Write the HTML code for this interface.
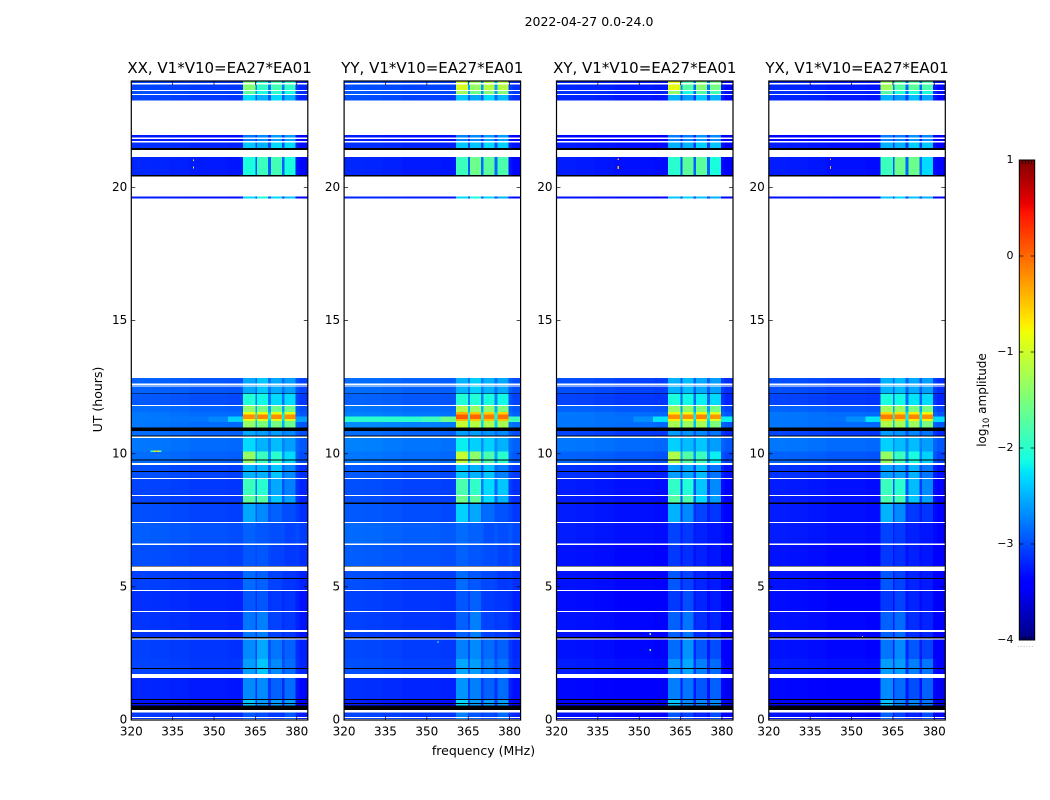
<!DOCTYPE html>
<html>
<head>
<meta charset="utf-8">
<title>2022-04-27 0.0-24.0</title>
<style>
html,body{margin:0;padding:0;background:#fff;}
svg{display:block;}
text{font-family:"DejaVu Sans","Liberation Sans",sans-serif;fill:#000;}
</style>
</head>
<body>
<svg id="figure" xmlns="http://www.w3.org/2000/svg" width="1050" height="800" viewBox="0 0 1050 800">
  <text x="589" y="26" font-size="12.5" text-anchor="middle">2022-04-27 0.0-24.0</text>
  <text x="483.5" y="755" font-size="12.5" text-anchor="middle">frequency (MHz)</text>
  <text transform="translate(102,399.5) rotate(-90)" font-size="12.5" text-anchor="middle">UT (hours)</text>
  <text transform="translate(986,400) rotate(-90)" font-size="12" text-anchor="middle">log<tspan font-size="8.5" dy="3">10</tspan><tspan dy="-3"> amplitude</tspan></text>
  <text x="1026" y="647" font-size="6" fill="#777" text-anchor="middle" letter-spacing="1" style="fill:#777">......</text>
  <defs>
    <linearGradient id="jet-gradient" x1="0" y1="1" x2="0" y2="0"></linearGradient>
  </defs>
</svg>
<script>
/* ---------- values (log10 amplitude, hours, MHz) ---------- */
var panelTitles = ["XX, V1*V10=EA27*EA01","YY, V1*V10=EA27*EA01","XY, V1*V10=EA27*EA01","YX, V1*V10=EA27*EA01"];
var freqTicks = [320,335,350,365,380];
var hourTicks = [0,5,10,15,20];
var colorTicks = [1,0,-1,-2,-3,-4];

/* frequency columns: background sections, then the four bright bands and their gaps */
var freqEdges = [320,327,334,341,348,355,360.5,365,365.6,369.6,370.6,374.6,375.6,379.6,381,384];
/* which level each column reads: 0 = background, 1-4 = band, negative = gap next to that band */
var colSource = [0,0,0,0,0,0,1,-1,2,-2,3,-3,4,0,0];
var bgProfile = [0.06,0.05,0.03,0,0,-0.02,0,0,0,0,0,0,0,-0.03,-0.1];

/* time segments; each row of a level table is [background, band1, band2, band3, band4] */
var segmentStarts = [0,0.375,0.79,1.58,2.3,3.05,4.06,4.86,5.6,6.6,7.42,8.13,8.45,9.07,9.58,10.08,10.62,10.98,11.23,11.31,11.47,11.57,11.81,12.25,12.84,19.58,19.66,21.14,21.69,21.97,23.26,23.47,23.66];
var segmentEnd = 24;

var levelsXX = [
[-3.15,-2.95,-3.0,-3.1,-2.95],[-3.35,-2.4,-2.6,-2.6,-2.6],[-3.25,-2.7,-2.7,-2.9,-2.85],[-3.1,-2.6,-2.4,-2.7,-2.85],
[-3.12,-2.7,-2.55,-2.8,-2.9],[-3.18,-2.8,-2.75,-3.05,-3.1],[-3.2,-2.95,-2.95,-3.1,-3.12],[-3.12,-2.85,-2.9,-3.05,-3.12],
[-3.05,-2.95,-2.95,-3.05,-3.1],[-2.98,-2.9,-2.95,-3.0,-3.05],[-3.05,-2.55,-2.7,-2.9,-3.0],[-3.1,-1.7,-1.75,-2.4,-2.6],
[-3.1,-1.9,-2.0,-2.55,-2.75],[-3.05,-2.5,-2.5,-2.4,-2.7],[-2.9,-1.35,-1.9,-2.0,-2.3],[-2.85,-2.3,-2.5,-2.45,-2.6],
[-2.9,-2.55,-2.6,-2.6,-2.7],[-2.85,-1.35,-1.5,-1.55,-1.6],[-2.85,-0.85,-0.9,-0.9,-0.9],[-2.85,-0.2,-0.15,-0.2,-0.2],
[-2.85,-0.8,-0.85,-0.85,-0.85],[-2.9,-1.4,-1.55,-1.6,-1.6],[-3.0,-2.05,-2.15,-2.3,-2.3],[-2.95,-2.55,-2.4,-2.55,-2.6],
null,[-3.3,-2.3,-2.1,-2.3,-2.4],[-3.25,-2.1,-1.9,-1.85,-2.1],[-3.2,-2.4,-2.5,-2.3,-2.3],[-3.3,-2.8,-2.7,-2.6,-2.6],
null,[-3.1,-2.3,-2.5,-2.3,-2.5],[-3.05,-1.7,-2.1,-2.0,-2.1],[-3.1,-1.45,-1.95,-1.85,-1.95]];

var levelsYY = [
[-3.1,-2.75,-2.95,-3.0,-2.85],[-3.3,-2.3,-2.6,-2.6,-2.6],[-3.2,-2.65,-2.75,-2.9,-2.85],[-3.05,-2.55,-2.6,-2.75,-2.8],
[-3.08,-2.75,-2.7,-2.85,-2.9],[-3.12,-2.9,-2.75,-3.05,-3.08],[-3.12,-2.95,-2.9,-3.08,-3.12],[-3.05,-2.85,-2.95,-3.02,-3.1],
[-2.98,-2.9,-2.95,-3.0,-3.05],[-2.92,-2.85,-2.9,-3.0,-3.0],[-3.0,-2.35,-2.55,-2.85,-2.98],[-3.05,-1.6,-1.7,-2.3,-2.5],
[-3.05,-1.8,-1.95,-2.3,-2.4],[-3.0,-2.4,-2.5,-2.4,-2.75],[-2.85,-1.05,-1.4,-1.8,-2.0],[-2.8,-2.2,-2.35,-2.35,-2.5],
[-2.9,-2.6,-2.6,-2.65,-2.7],[-2.75,-1.05,-1.15,-1.2,-1.25],[-2.8,-0.4,-0.5,-0.5,-0.5],[-2.8,0.08,0.02,-0.1,-0.05],
[-2.8,-0.4,-0.5,-0.55,-0.55],[-2.85,-1.2,-1.35,-1.4,-1.5],[-2.95,-2.05,-2.05,-2.1,-2.15],[-2.9,-2.5,-2.35,-2.5,-2.55],
null,[-3.25,-2.3,-2.1,-2.3,-2.5],[-3.25,-1.9,-1.6,-1.7,-1.8],[-3.2,-2.4,-2.4,-2.3,-2.35],[-3.3,-2.75,-2.7,-2.6,-2.6],
null,[-3.05,-2.4,-2.55,-2.3,-2.45],[-3.0,-1.3,-1.6,-1.45,-1.45],[-3.05,-0.95,-1.35,-1.15,-1.15]];

var levelsXY = [
[-3.35,-2.95,-3.05,-3.2,-3.0],[-3.45,-2.4,-2.7,-2.7,-2.7],[-3.4,-2.75,-2.8,-2.95,-2.9],[-3.3,-2.65,-2.55,-2.75,-2.85],
[-3.35,-2.85,-2.65,-2.95,-3.0],[-3.35,-2.9,-2.8,-3.15,-3.2],[-3.38,-3.1,-3.0,-3.2,-3.25],[-3.35,-2.95,-3.05,-3.2,-3.25],
[-3.35,-3.1,-3.15,-3.22,-3.27],[-3.3,-3.05,-3.1,-3.22,-3.27],[-3.3,-2.5,-2.7,-3.05,-3.12],[-3.3,-1.75,-1.8,-2.3,-2.6],
[-3.3,-1.95,-2.05,-2.4,-2.7],[-3.2,-2.6,-2.55,-2.45,-2.8],[-2.95,-1.2,-1.75,-1.9,-2.2],[-2.85,-2.35,-2.45,-2.4,-2.6],
[-3.1,-2.6,-2.65,-2.7,-2.8],[-2.85,-1.25,-1.3,-1.25,-1.5],[-2.85,-0.7,-0.8,-0.7,-0.9],[-2.85,-0.2,-0.2,-0.15,-0.25],
[-2.85,-0.75,-0.8,-0.75,-0.9],[-2.95,-1.35,-1.4,-1.5,-1.55],[-3.1,-2.1,-2.15,-2.2,-2.3],[-3.05,-2.5,-2.45,-2.55,-2.6],
null,[-3.35,-2.4,-2.3,-2.4,-2.5],[-3.3,-2.0,-1.7,-1.7,-2.1],[-3.3,-2.5,-2.5,-2.35,-2.4],[-3.4,-2.75,-2.75,-2.65,-2.7],
null,[-3.25,-2.5,-2.6,-2.4,-2.5],[-3.2,-1.4,-2.1,-1.75,-1.85],[-3.25,-0.85,-1.75,-1.45,-1.55]];

var levelsYX = [
[-3.35,-2.9,-3.05,-3.2,-3.0],[-3.45,-2.4,-2.7,-2.7,-2.8],[-3.4,-2.7,-2.85,-3.0,-2.9],[-3.3,-2.6,-2.6,-2.75,-2.8],
[-3.35,-2.8,-2.7,-2.95,-3.05],[-3.35,-2.9,-2.85,-3.15,-3.2],[-3.38,-3.1,-3.05,-3.2,-3.25],[-3.35,-2.95,-3.05,-3.2,-3.25],
[-3.35,-3.1,-3.15,-3.22,-3.27],[-3.3,-3.05,-3.1,-3.22,-3.27],[-3.3,-2.5,-2.7,-3.1,-3.12],[-3.3,-1.8,-1.85,-2.4,-2.6],
[-3.3,-1.9,-2.0,-2.45,-2.7],[-3.2,-2.6,-2.6,-2.5,-2.8],[-2.95,-1.35,-1.9,-2.1,-2.35],[-2.85,-2.35,-2.45,-2.45,-2.6],
[-3.1,-2.6,-2.65,-2.7,-2.8],[-2.85,-1.2,-1.25,-1.3,-1.5],[-2.85,-0.55,-0.6,-0.7,-0.75],[-2.85,-0.1,-0.12,-0.15,-0.2],
[-2.85,-0.6,-0.65,-0.7,-0.8],[-2.95,-1.3,-1.35,-1.5,-1.55],[-3.1,-2.1,-2.15,-2.25,-2.3],[-3.05,-2.5,-2.45,-2.55,-2.6],
null,[-3.35,-2.4,-2.3,-2.4,-2.5],[-3.3,-1.9,-1.6,-1.6,-2.3],[-3.3,-2.5,-2.5,-2.35,-2.4],[-3.4,-2.75,-2.75,-2.65,-2.7],
null,[-3.25,-2.5,-2.6,-2.45,-2.55],[-3.2,-1.75,-2.05,-2.05,-2.1],[-3.25,-1.3,-1.75,-1.7,-1.8]];

var panelLevels = [levelsXX,levelsYY,levelsXY,levelsYX];

/* broadband interference streak near 11.3 h, away from the bright bands */
var streakHours = [11.2,11.39];
var streakFreqs = [320,334,348,355,360.5];
var streakXX = [-2.78,-2.8,-2.72,-2.35];
var streakYY = [-2.0,-2.0,-1.9,-1.6];
var streakXY = [-2.8,-2.82,-2.68,-2.25];
var streakYX = [-2.8,-2.82,-2.68,-2.25];
var streakLevels = [streakXX,streakYY,streakXY,streakYX];
var streakRightFreqs = [379.6,384];
var streakRightLevels = [-2.6,-1.9,-2.2,-2.3];

/* isolated spikes: [panel, MHz, hour, level] */
var spikes = [
[0,342.4,21.0,-1.0],[0,342.4,20.72,-1.0],[0,329.0,10.06,-0.3],[0,328.6,10.06,-0.7],[0,329.4,10.06,-0.7],
[0,327.0,10.06,-1.9],[0,327.4,10.06,-1.9],[0,327.8,10.06,-1.7],[0,328.2,10.06,-1.3],[0,329.8,10.06,-1.3],[0,330.2,10.06,-1.7],[0,330.6,10.06,-1.9],
[2,342.2,21.03,-0.3],[2,342.2,20.75,-0.4],[2,342.2,20.69,-0.4],[2,353.8,3.2,-1.6],[2,353.8,2.6,-1.6],
[3,342.2,21.03,-0.3],[3,342.2,20.75,-0.4],[3,342.2,20.69,-0.4],[3,353.8,3.1,-1.7],[1,353.8,2.9,-1.9]];

/* flagged time ranges, [from hour, to hour] */
var blankRanges = [[0,0.04],[0.083,0.113],[0.29,0.375],[1.58,1.73],[3.03,3.07],[3.3,3.38],[4.06,4.09],[4.84,4.88],[5.6,5.76],[6.58,6.62],[7.4,7.44],[8.41,8.45],[9.05,9.09],[9.58,9.66],[10.59,10.64],[11.79,11.83],[12.52,12.57],[12.59,12.64],[12.84,19.58],[19.66,20.42],[21.14,21.41],[21.69,21.74],[21.83,21.88],[21.97,23.26],[23.47,23.51],[23.62,23.66],[23.86,23.92]];
var zeroRanges = [[0.375,0.5],[0.51,0.545],[0.6,0.64],[0.75,0.79],[1.915,1.95],[3.07,3.11],[5.3,5.33],[5.76,5.79],[8.11,8.16],[9.32,9.35],[9.74,9.79],[10.64,10.69],[10.86,10.98],[12.24,12.27],[20.42,20.47],[21.41,21.49]];

/* ---------- layout and axis functions ---------- */
var SVGNS = "http://www.w3.org/2000/svg";
var svg = document.getElementById("figure");
var plotLeft = [131.3,344.1,556.5,768.8], plotWidth = 176.5, plotTop = 81, plotBottom = 720;
var freqMin = 320, freqMax = 384, hourMin = 0, hourMax = 24, ampMin = -4, ampMax = 1;
var cbLeft = 1019.3, cbRight = 1034.7, cbTop = 160, cbBottom = 640;

function xScale(panel, mhz){ return plotLeft[panel] + (mhz - freqMin) / (freqMax - freqMin) * plotWidth; }
function yScale(hour){ return plotBottom - (hour - hourMin) / (hourMax - hourMin) * (plotBottom - plotTop); }
function cbScale(v){ return cbBottom - (v - ampMin) / (ampMax - ampMin) * (cbBottom - cbTop); }

function ramp(f, pts){
  for (var i = 1; i < pts.length; i++) {
    if (f <= pts[i][0]) {
      var a = pts[i-1], b = pts[i];
      return a[1] + (b[1] - a[1]) * (f - a[0]) / (b[0] - a[0]);
    }
  }
  return pts[pts.length-1][1];
}
function jet(v){
  var f = Math.max(0, Math.min(1, (v - ampMin) / (ampMax - ampMin)));
  var r = ramp(f, [[0,0],[0.35,0],[0.66,1],[0.89,1],[1,0.5]]);
  var g = ramp(f, [[0,0],[0.125,0],[0.375,1],[0.64,1],[0.91,0],[1,0]]);
  var b = ramp(f, [[0,0.5],[0.11,1],[0.34,1],[0.65,0],[1,0]]);
  return "rgb(" + Math.round(r*255) + "," + Math.round(g*255) + "," + Math.round(b*255) + ")";
}
function make(tag, attrs, parent){
  var el = document.createElementNS(SVGNS, tag);
  for (var k in attrs) el.setAttribute(k, attrs[k]);
  parent.appendChild(el);
  return el;
}
function cell(parent, panel, f0, f1, h0, h1, color){
  var el = make("rect", {
    x: xScale(panel, f0), y: yScale(h1),
    width: xScale(panel, f1) - xScale(panel, f0),
    height: yScale(h0) - yScale(h1),
    fill: color, "shape-rendering": "crispEdges"
  }, parent);
  return el;
}

/* ---------- panels ---------- */
for (var p = 0; p < 4; p++) {
  var group = make("g", {}, svg);
  
  

  var levels = panelLevels[p];
  for (var r = 0; r < segmentStarts.length; r++) {
    var row = levels[r];
    if (!row) continue;
    var h0 = segmentStarts[r];
    var h1 = r + 1 < segmentStarts.length ? segmentStarts[r+1] : segmentEnd;
    for (var c = 0; c < colSource.length; c++) {
      var src = colSource[c], val;
      if (src > 0) val = row[src];
      else if (src < 0) val = row[0] + 0.25 * (row[-src] - row[0]);
      else val = row[0] + bgProfile[c];
      var rect = cell(group, p, freqEdges[c], freqEdges[c+1], h0, h1, jet(val));
      
      
    }
  }

  var sl = streakLevels[p];
  for (var s = 0; s < sl.length; s++) {
    var sr = cell(group, p, streakFreqs[s], streakFreqs[s+1], streakHours[0], streakHours[1], jet(sl[s]));
    
    
  }
  var srr = cell(group, p, streakRightFreqs[0], streakRightFreqs[1], streakHours[0], streakHours[1], jet(streakRightLevels[p]));
  
  

  for (var k = 0; k < spikes.length; k++) {
    if (spikes[k][0] !== p) continue;
    var sp = cell(group, p, spikes[k][1], spikes[k][1] + 0.4, spikes[k][2], spikes[k][2] + 0.06, jet(spikes[k][3]));
    
    
  }

  for (var b = 0; b < blankRanges.length; b++) {
    var wr = cell(group, p, freqMin, freqMax, blankRanges[b][0], blankRanges[b][1], "#fff");
    
    
  }
  for (var z = 0; z < zeroRanges.length; z++) {
    var zr = cell(group, p, freqMin, freqMax, zeroRanges[z][0], zeroRanges[z][1], "#000");
    
    
  }

  var frame = make("rect", {x: plotLeft[p], y: plotTop, width: plotWidth, height: plotBottom - plotTop, fill: "none", stroke: "#000", "stroke-width": 1.2}, group);
  
  

  var title = make("text", {x: plotLeft[p] + plotWidth / 2, y: 73, "font-size": 15, "text-anchor": "middle"}, group);
  title.textContent = panelTitles[p];
  
  

  for (var i = 0; i < freqTicks.length; i++) {
    var tx = xScale(p, freqTicks[i]);
    var t1 = make("line", {x1: tx, x2: tx, y1: plotBottom, y2: plotBottom - 4, stroke: "#000", "stroke-width": 0.7}, group);
    
    
    var t2 = make("line", {x1: tx, x2: tx, y1: plotTop, y2: plotTop + 4, stroke: "#000", "stroke-width": 0.7}, group);
    
    
    var xl = make("text", {x: tx, y: 735.5, "font-size": 12, "text-anchor": "middle"}, group);
    xl.textContent = freqTicks[i];
    
    
  }
  for (var j = 0; j < hourTicks.length; j++) {
    var ty = yScale(hourTicks[j]);
    var t3 = make("line", {x1: plotLeft[p], x2: plotLeft[p] + 4, y1: ty, y2: ty, stroke: "#000", "stroke-width": 0.7}, group);
    
    
    var t4 = make("line", {x1: plotLeft[p] + plotWidth, x2: plotLeft[p] + plotWidth - 4, y1: ty, y2: ty, stroke: "#000", "stroke-width": 0.7}, group);
    
    
    var yl = make("text", {x: plotLeft[p] - 4, y: ty + 3.5, "font-size": 12, "text-anchor": "end"}, group);
    yl.textContent = hourTicks[j];
    
    
  }
}

/* ---------- colour bar ---------- */
var grad = document.getElementById("jet-gradient");
for (var g = 0; g <= 100; g++) {
  var stop = make("stop", {offset: (g) + "%", "stop-color": jet(ampMin + (ampMax - ampMin) * g / 100)}, grad);
}
var cbGroup = make("g", {}, svg);


var cbRect = make("rect", {x: cbLeft, y: cbTop, width: cbRight - cbLeft, height: cbBottom - cbTop, fill: "url(#jet-gradient)", stroke: "#000", "stroke-width": 1}, cbGroup);


for (var n = 0; n < colorTicks.length; n++) {
  var cy = cbScale(colorTicks[n]);
  var c1 = make("line", {x1: cbLeft, x2: cbLeft + 4, y1: cy, y2: cy, stroke: "#000", "stroke-width": 0.7}, cbGroup);
  
  
  var c2 = make("line", {x1: cbRight, x2: cbRight - 4, y1: cy, y2: cy, stroke: "#000", "stroke-width": 0.7}, cbGroup);
  
  
  var cl = make("text", {x: 1013.5, y: cy + 3, "font-size": 11, "text-anchor": "end"}, cbGroup);
  cl.textContent = String(colorTicks[n]).replace("-", "\u2212");
  
  
}
for (var m = 1; m <= 4; m++) {
  var mx = cbLeft + (cbRight - cbLeft) * m / 5;
  var m1 = make("line", {x1: mx, x2: mx, y1: cbTop, y2: cbTop + 4, stroke: "#000", "stroke-width": 0.7}, cbGroup);
  
  
  var m2 = make("line", {x1: mx, x2: mx, y1: cbBottom, y2: cbBottom - 4, stroke: "#000", "stroke-width": 0.7}, cbGroup);
  
  
}
</script>
</body>
</html>
